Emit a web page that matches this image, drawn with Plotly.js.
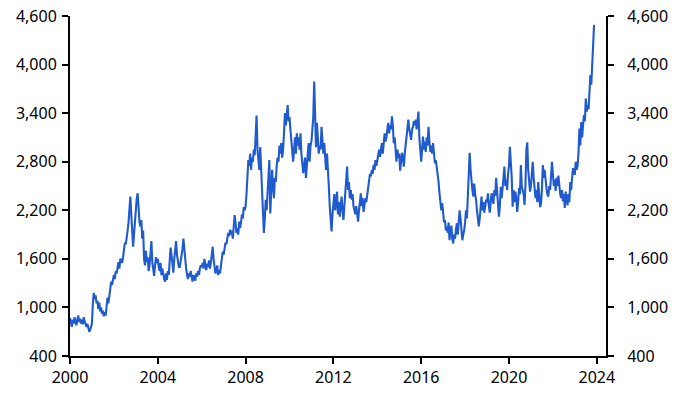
<!DOCTYPE html>
<html>
<head>
<meta charset="utf-8">
<script src="https://cdn.plot.ly/plotly-3.0.1.min.js"></script>
<style>
  html, body { margin: 0; padding: 0; background: #ffffff; }
  #chart { width: 682px; height: 407px; }
</style>
</head>
<body>
<div id="chart"></div>
<script>
// Half-monthly readings (24 per year) of the price series
const p2000 = [870, 820, 760, 850, 800, 880, 830, 780, 840, 900, 820, 860, 800, 850, 790, 880, 830, 780, 760, 800, 740, 700, 720, 760];
const p2001 = [800, 1050, 1180, 1100, 1150, 1050, 1080, 980, 1060, 950, 1000, 920, 960, 890, 940, 900, 1000, 1120, 1050, 1150, 1250, 1320, 1280, 1380];
const p2002 = [1400, 1350, 1450, 1420, 1500, 1560, 1480, 1600, 1580, 1550, 1620, 1720, 1800, 1780, 1850, 1950, 2050, 2200, 2370, 2150, 1980, 1750, 1900, 2100];
const p2003 = [2250, 2350, 2410, 2150, 2050, 2000, 2080, 1850, 1950, 1600, 1520, 1700, 1560, 1620, 1450, 1520, 1650, 1820, 1560, 1480, 1390, 1520, 1620, 1550];
const p2004 = [1600, 1500, 1450, 1550, 1400, 1480, 1380, 1350, 1320, 1420, 1340, 1450, 1400, 1600, 1740, 1650, 1480, 1430, 1600, 1700, 1820, 1650, 1550, 1500];
const p2005 = [1500, 1560, 1650, 1720, 1850, 1700, 1550, 1480, 1400, 1350, 1420, 1380, 1450, 1340, 1320, 1400, 1360, 1330, 1420, 1380, 1450, 1400, 1480, 1520];
const p2006 = [1500, 1550, 1480, 1600, 1520, 1460, 1540, 1500, 1580, 1480, 1550, 1650, 1750, 1600, 1480, 1420, 1450, 1520, 1400, 1460, 1420, 1500, 1600, 1690];
const p2007 = [1650, 1750, 1800, 1780, 1850, 1920, 1880, 1960, 1900, 1950, 1850, 2000, 2140, 2050, 1920, 1980, 1900, 2060, 1980, 2050, 2150, 2100, 2240, 2200];
const p2008 = [2250, 2400, 2600, 2820, 2750, 2900, 2700, 2850, 2800, 2950, 2880, 3100, 3370, 2950, 2800, 2700, 2980, 2650, 2500, 2250, 1920, 2100, 2330, 2200];
const p2009 = [2400, 2600, 2820, 2160, 2450, 2700, 2500, 2350, 2600, 2550, 2750, 2850, 2800, 3000, 2900, 3030, 2850, 2950, 3150, 3400, 3250, 3350, 3500, 3300];
const p2010 = [3350, 3200, 3030, 2900, 2800, 2950, 3100, 2900, 3150, 3000, 3100, 2950, 3150, 2900, 2800, 2660, 2750, 2850, 2600, 2800, 2900, 3030, 2800, 3000];
const p2011 = [3050, 3200, 3350, 3790, 3300, 2980, 3280, 3050, 2900, 3000, 2950, 3230, 3050, 2900, 3030, 2850, 2700, 2900, 2750, 2500, 2250, 2100, 1940, 2150];
const p2012 = [2300, 2400, 2200, 2350, 2430, 2150, 2300, 2120, 2250, 2370, 2200, 2080, 2250, 2400, 2600, 2740, 2450, 2550, 2350, 2450, 2330, 2400, 2250, 2200];
const p2013 = [2150, 2250, 2100, 2060, 2200, 2300, 2410, 2250, 2350, 2180, 2250, 2350, 2300, 2400, 2475, 2550, 2650, 2620, 2700, 2650, 2760, 2700, 2820, 2750];
const p2014 = [2800, 2880, 2950, 2860, 2950, 3030, 2900, 3000, 3150, 3050, 3100, 3200, 3280, 3150, 3250, 3200, 3360, 3250, 3030, 3100, 2950, 2800, 2950, 2850];
const p2015 = [2900, 2690, 2800, 2910, 2850, 2740, 2900, 3000, 3150, 3250, 3320, 3200, 3150, 3070, 3200, 3230, 3300, 3250, 3320, 3200, 3300, 3420, 3100, 2860];
const p2016 = [2800, 2950, 3110, 2950, 3050, 2920, 3100, 3000, 3230, 3050, 2920, 3000, 2900, 3030, 2850, 2780, 2820, 2740, 2660, 2550, 2410, 2300, 2200, 2290];
const p2017 = [2150, 2050, 2080, 1950, 2000, 1920, 2050, 1830, 1950, 2010, 1850, 1790, 1900, 1850, 1960, 2040, 1900, 2050, 2200, 2100, 1960, 1830, 1900, 1950];
const p2018 = [2050, 2200, 2100, 2400, 2660, 2910, 2700, 2530, 2450, 2370, 2530, 2400, 2330, 2200, 2080, 2000, 2100, 2250, 2370, 2200, 2300, 2170, 2280, 2330];
const p2019 = [2300, 2410, 2250, 2170, 2300, 2410, 2350, 2280, 2450, 2380, 2600, 2450, 2200, 2120, 2250, 2490, 2350, 2450, 2600, 2740, 2500, 2580, 2450, 2650];
const p2020 = [2750, 2985, 2800, 2600, 2244, 2450, 2300, 2430, 2350, 2180, 2300, 2475, 2400, 2760, 2500, 2450, 2400, 2265, 2500, 2950, 3040, 2700, 2580, 2430];
const p2021 = [2500, 2650, 2800, 2600, 2430, 2350, 2450, 2300, 2550, 2400, 2240, 2280, 2450, 2760, 2600, 2700, 2550, 2470, 2400, 2370, 2500, 2450, 2630, 2800];
const p2022 = [2650, 2500, 2580, 2440, 2600, 2500, 2630, 2480, 2400, 2350, 2450, 2310, 2400, 2230, 2430, 2350, 2260, 2400, 2300, 2550, 2450, 2600, 2720, 2650];
const p2023 = [2650, 2800, 2700, 2750, 2900, 3210, 3000, 3290, 3100, 3250, 3377, 3300, 3580, 3420, 3500, 3450, 3800, 3870, 3750, 3930, 4240, 4490];

const startYears = [2000, 2001, 2002, 2003, 2004, 2005, 2006, 2007, 2008, 2009, 2010, 2011,
                    2012, 2013, 2014, 2015, 2016, 2017, 2018, 2019, 2020, 2021, 2022, 2023];
const yearSeries = [p2000, p2001, p2002, p2003, p2004, p2005, p2006, p2007, p2008, p2009, p2010, p2011,
                    p2012, p2013, p2014, p2015, p2016, p2017, p2018, p2019, p2020, p2021, p2022, p2023];

const xTickVals = [2000, 2004, 2008, 2012, 2016, 2020, 2024];
const xTickText = ['2000', '2004', '2008', '2012', '2016', '2020', '2024'];
const yTickVals = [400, 1000, 1600, 2200, 2800, 3400, 4000, 4600];

// sample dates: each year's readings are spaced half a month apart
const xs = [], ys = [];
startYears.forEach((yr, k) => {
  yearSeries[k].forEach((v, i) => { xs.push(yr + i / 24); ys.push(v); });
});

const blue = '#1f5acf';
const tickFont = { family: '"Noto Sans", "Open Sans", sans-serif', size: 16, color: '#000000' };

const traces = [
  { x: xs, y: ys, type: 'scatter', mode: 'lines', line: { color: blue, width: 2.1 },
    hoverinfo: 'skip', showlegend: false },
  { x: [null], y: [null], type: 'scatter', mode: 'lines', yaxis: 'y2', showlegend: false, hoverinfo: 'skip' }
];

const yCommon = {
  range: [400, 4600], tickvals: yTickVals, tickformat: ',', showgrid: false, zeroline: false,
  showline: true, linecolor: '#000000', linewidth: 2, ticks: 'outside', ticklen: 6, tickwidth: 2,
  tickcolor: '#000000', tickfont: tickFont, fixedrange: true
};

const layout = {
  width: 682, height: 407,
  margin: { l: 70, r: 76, t: 16, b: 51 },
  paper_bgcolor: '#ffffff', plot_bgcolor: '#ffffff',
  showlegend: false,
  xaxis: {
    range: [2000, 2024.42], tickvals: xTickVals, ticktext: xTickText, showgrid: false, zeroline: false,
    showline: true, linecolor: '#000000', linewidth: 2, ticks: 'outside', ticklen: 6, tickwidth: 2,
    tickcolor: '#000000', tickfont: tickFont, fixedrange: true
  },
  yaxis: Object.assign({ side: 'left', ticklabelstandoff: 2 }, yCommon),
  yaxis2: Object.assign({ side: 'right', overlaying: 'y', ticklabelstandoff: 10 }, yCommon)
};

Plotly.newPlot('chart', traces, layout, { displayModeBar: false, staticPlot: true });
</script>
</body>
</html>
